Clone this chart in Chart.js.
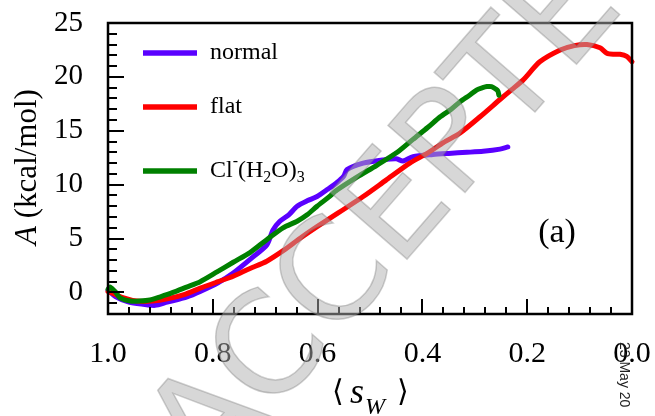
<!DOCTYPE html>
<html>
<head>
<meta charset="utf-8">
<script src="https://cdn.jsdelivr.net/npm/chart.js@4.4.1/dist/chart.umd.min.js"></script>
<style>
  body { margin: 0; background: #fff; }
  #c { display: block; }
</style>
</head>
<body>
<canvas id="c" width="655" height="416" style="width:655px;height:416px"></canvas>
<script>
// <s_W> on x (reversed), free energy A in kcal/mol on y
const normalS = [1.0, 0.985, 0.96, 0.933, 0.91, 0.887, 0.849, 0.824, 0.79, 0.761, 0.723, 0.697, 0.685, 0.672, 0.655, 0.639, 0.62, 0.601, 0.58, 0.563, 0.55, 0.544, 0.513, 0.475, 0.45, 0.437, 0.418, 0.38, 0.35, 0.315, 0.284, 0.252, 0.237];
const normalA = [0.2, -0.4, -0.9, -1.1, -1.2, -0.9, -0.4, 0.1, 0.9, 1.8, 3.3, 4.4, 5.8, 6.6, 7.2, 8.0, 8.5, 8.9, 9.6, 10.2, 10.8, 11.4, 12.0, 12.3, 12.4, 12.2, 12.6, 12.8, 12.9, 13.0, 13.1, 13.3, 13.5];

const flatS = [1.0, 0.97, 0.945, 0.915, 0.887, 0.855, 0.824, 0.79, 0.761, 0.73, 0.697, 0.665, 0.634, 0.601, 0.56, 0.513, 0.47, 0.424, 0.391, 0.36, 0.328, 0.29, 0.252, 0.23, 0.208, 0.176, 0.137, 0.11, 0.086, 0.061, 0.048, 0.035, 0.023, 0.01, 0.0];
const flatA = [0.1, -0.5, -0.8, -0.8, -0.6, -0.2, 0.4, 1.0, 1.5, 2.2, 2.9, 3.9, 5.0, 6.1, 7.4, 8.9, 10.4, 12.0, 12.9, 13.9, 14.8, 16.3, 17.9, 18.8, 19.7, 21.4, 22.5, 22.9, 23.0, 22.7, 22.2, 22.1, 22.1, 21.9, 21.4];

const clS = [1.0, 0.996, 0.985, 0.977, 0.958, 0.94, 0.92, 0.9, 0.876, 0.85, 0.824, 0.792, 0.761, 0.729, 0.697, 0.666, 0.639, 0.62, 0.601, 0.58, 0.563, 0.525, 0.487, 0.448, 0.418, 0.39, 0.366, 0.345, 0.328, 0.31, 0.296, 0.285, 0.277, 0.268, 0.261, 0.256, 0.254];
const clA = [0.3, 0.5, 0.0, -0.5, -0.8, -0.8, -0.7, -0.4, 0.0, 0.5, 1.0, 1.9, 2.8, 3.7, 4.9, 6.0, 6.6, 7.2, 8.0, 8.8, 9.5, 10.7, 11.8, 13.0, 14.2, 15.3, 16.3, 17.0, 17.7, 18.3, 18.8, 19.0, 19.1, 19.1, 18.9, 18.7, 18.3];

const xTicks = [0, 0.2, 0.4, 0.6, 0.8, 1.0];
const yTicks = [0, 5, 10, 15, 20, 25];
const xMinor = [0.04, 0.08, 0.12, 0.16, 0.24, 0.28, 0.32, 0.36, 0.44, 0.48, 0.52, 0.56, 0.64, 0.68, 0.72, 0.76, 0.84, 0.88, 0.92, 0.96];
const yMinor = [-1, 1, 2, 3, 4, 6, 7, 8, 9, 11, 12, 13, 14, 16, 17, 18, 19, 21, 22, 23, 24];

const SERIF = '"Liberation Serif", "Times New Roman", serif';

function pts(xs, ys) {
  return xs.map((x, i) => ({x: x, y: ys[i]}));
}

function line(label, xs, ys, color, order) {
  return {
    label: label,
    data: pts(xs, ys),
    borderColor: color,
    backgroundColor: color,
    borderWidth: 5,
    pointRadius: 0,
    showLine: true,
    tension: 0.25,
    borderCapStyle: 'round',
    borderJoinStyle: 'round',
    clip: false,
    order: order
  };
}

// draws text made of pieces (sub/superscripts, italics)
function richText(ctx, parts, x, y) {
  let cx = x;
  for (const p of parts) {
    ctx.font = (p.italic ? 'italic ' : '') + p.size + 'px ' + SERIF;
    ctx.fillText(p.t, cx, y + (p.dy || 0));
    cx += ctx.measureText(p.t).width;
  }
}

const decor = {
  id: 'decor',
  afterDatasetsDraw(chart) {
    const ctx = chart.ctx;
    const a = chart.chartArea;
    const sx = chart.scales.x, sy = chart.scales.y;
    ctx.save();
    ctx.fillStyle = '#000';

    // inward ticks, left and bottom only
    for (const v of yTicks.concat(yMinor)) {
      const py = Math.round(sy.getPixelForValue(v));
      const len = yTicks.includes(v) ? 16 : 9;
      ctx.fillRect(a.left, py - 1, len, 2);
    }
    for (const v of xTicks.concat(xMinor)) {
      const px = Math.round(sx.getPixelForValue(v));
      const len = xTicks.includes(v) ? 15 : 7;
      ctx.fillRect(px - 1, a.bottom - len, 2, len);
    }

    // frame
    ctx.strokeStyle = '#000';
    ctx.lineWidth = 2.5;
    ctx.strokeRect(a.left, a.top, a.right - a.left, a.bottom - a.top);

    // legend inside plot
    const items = [
      {ds: 0, y: 53, parts: [{t: 'normal', size: 24}]},
      {ds: 1, y: 107, parts: [{t: 'flat', size: 24}]},
      {ds: 2, y: 171, parts: [
        {t: 'Cl', size: 24}, {t: '-', size: 16, dy: -9}, {t: '(H', size: 24},
        {t: '2', size: 16, dy: 7}, {t: 'O)', size: 24}, {t: '3', size: 16, dy: 7}
      ]}
    ];
    ctx.textBaseline = 'middle';
    ctx.textAlign = 'left';
    for (const it of items) {
      ctx.strokeStyle = chart.data.datasets[it.ds].borderColor;
      ctx.lineWidth = 5.5;
      ctx.beginPath();
      ctx.moveTo(143, it.y);
      ctx.lineTo(197, it.y);
      ctx.stroke();
      ctx.fillStyle = '#000';
      richText(ctx, it.parts, 210, it.y);
    }

    // panel label
    ctx.font = '34px ' + SERIF;
    ctx.textAlign = 'center';
    ctx.fillText('(a)', 557, 233);
    ctx.restore();
  },
  afterDraw(chart) {
    const ctx = chart.ctx;
    ctx.save();
    ctx.fillStyle = '#000';
    ctx.textBaseline = 'alphabetic';
    ctx.textAlign = 'left';

    // y title, rotated
    ctx.save();
    ctx.translate(36, 167);
    ctx.rotate(-Math.PI / 2);
    ctx.font = 'italic 31px ' + SERIF;
    const wA = ctx.measureText('A').width;
    ctx.font = '31px ' + SERIF;
    const wR = ctx.measureText(' (kcal/mol)').width;
    richText(ctx, [{t: 'A', size: 31, italic: true}, {t: ' (kcal/mol)', size: 31}], -(wA + wR) / 2, 0);
    ctx.restore();

    // x title  < s_W >
    ctx.font = '30px ' + SERIF;
    ctx.fillText('\u27E8', 332, 401);
    ctx.font = 'italic 36px ' + SERIF;
    ctx.fillText('s', 350, 403);
    ctx.font = 'italic 24px ' + SERIF;
    ctx.fillText('W', 365, 414);
    ctx.font = '30px ' + SERIF;
    ctx.fillText('\u27E9', 397, 401);

    // ACCEPTED watermark
    ctx.save();
    ctx.translate(425, 183);
    ctx.rotate(-49 * Math.PI / 180);
    ctx.font = '140px "DejaVu Sans"';
    ctx.textAlign = 'center';
    ctx.textBaseline = 'middle';
    ctx.fillStyle = 'rgba(175,175,175,0.5)';
    ctx.fillText('ACCEPTED', 0, 0);
    ctx.strokeStyle = 'rgba(120,120,120,0.35)';
    ctx.lineWidth = 1.5;
    ctx.strokeText('ACCEPTED', 0, 0);
    ctx.restore();

    // date stamp
    ctx.save();
    ctx.translate(617, 342);
    ctx.rotate(Math.PI / 2);
    ctx.font = '14px "Liberation Sans"';
    ctx.fillStyle = '#222';
    ctx.textBaseline = 'bottom';
    ctx.fillText('23 May 20', 0, 0);
    ctx.restore();

    ctx.restore();
  }
};

new Chart(document.getElementById('c'), {
  type: 'scatter',
  data: {
    datasets: [
      line('normal', normalS, normalA, '#5a00ff', 3),
      line('flat', flatS, flatA, '#ff0000', 2),
      line('Cl\u207B(H\u2082O)\u2083', clS, clA, '#008000', 1)
    ]
  },
  options: {
    responsive: false,
    animation: false,
    layout: {padding: {left: 0, top: 23, right: 23, bottom: 0}},
    plugins: {legend: {display: false}, tooltip: {enabled: false}},
    scales: {
      x: {
        type: 'linear',
        reverse: true,
        min: 0,
        max: 1,
        afterBuildTicks: s => { s.ticks = xTicks.map(v => ({value: v})); },
        afterFit: s => { s.height = 102; s.paddingLeft = 0; s.paddingRight = 0; },
        grid: {display: false, drawTicks: false},
        border: {display: false},
        ticks: {
          padding: 22,
          color: '#000',
          font: {family: SERIF, size: 30},
          maxRotation: 0,
          callback: v => Number(v).toFixed(1)
        }
      },
      y: {
        type: 'linear',
        min: -2,
        max: 25,
        afterBuildTicks: s => { s.ticks = yTicks.map(v => ({value: v})); },
        afterFit: s => { s.width = 108; s.paddingTop = 0; s.paddingBottom = 0; },
        grid: {display: false, drawTicks: false},
        border: {display: false},
        ticks: {
          padding: 25,
          color: '#000',
          font: {family: SERIF, size: 29}
        }
      }
    }
  },
  plugins: [decor]
});
</script>
</body>
</html>
